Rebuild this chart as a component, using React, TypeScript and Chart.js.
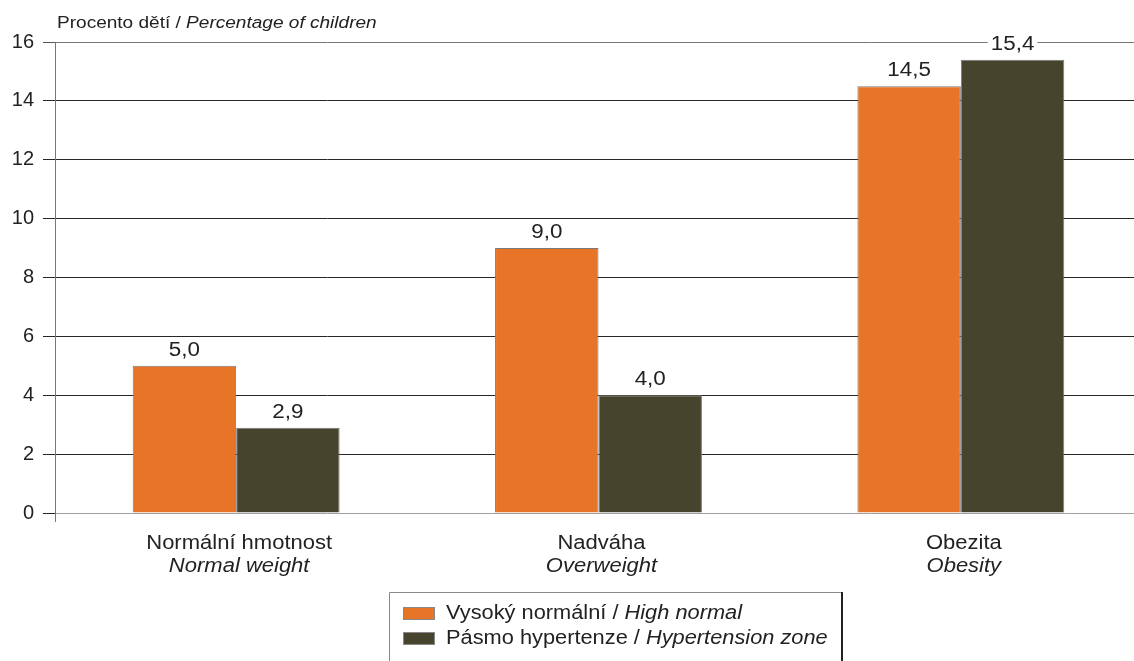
import React, { useEffect, useRef } from "react";
import { Chart, registerables } from "chart.js";

Chart.register(...registerables);

// Body-weight groups (Czech / English)
const categoriesCz = ["Normální hmotnost", "Nadváha", "Obezita"];
const categoriesEn = ["Normal weight", "Overweight", "Obesity"];

// Share of children (%) per blood-pressure group
const highNormal = [5.0, 9.0, 14.5];
const hypertension = [2.9, 4.0, 15.4];

const seriesCz = ["Vysoký normální", "Pásmo hypertenze"];
const seriesEn = ["High normal", "Hypertension zone"];
const seriesColors = ["#E87427", "#46442C"];

const yTicks = [0, 2, 4, 6, 8, 10, 12, 14, 16];

const FONT = "'Liberation Sans', Arial, Helvetica, sans-serif";
const TEXT = "#222222";

const fmt = (v: number) => v.toFixed(1).replace(".", ",");

type Run = { text: string; italic?: boolean };

// Draws a sequence of text runs with a slightly widened face
function drawRuns(
  ctx: CanvasRenderingContext2D,
  runs: Run[],
  x: number,
  y: number,
  size: number,
  sx: number,
  align: "left" | "center"
) {
  const widths = runs.map((r) => {
    ctx.font = `${r.italic ? "italic " : ""}${size}px ${FONT}`;
    return ctx.measureText(r.text).width;
  });
  const total = widths.reduce((a, b) => a + b, 0);
  let start = align === "center" ? -total / 2 : 0;
  ctx.save();
  ctx.translate(x, y);
  ctx.scale(sx, 1);
  ctx.textAlign = "left";
  runs.forEach((r, i) => {
    ctx.font = `${r.italic ? "italic " : ""}${size}px ${FONT}`;
    ctx.fillText(r.text, start, 0);
    start += widths[i];
  });
  ctx.restore();
  return total * sx;
}

const decorations = {
  id: "decorations",
  afterDraw(chart: any) {
    const { ctx, chartArea, scales } = chart;
    const x = scales.x;
    ctx.save();

    // y axis continues a little below zero
    ctx.strokeStyle = "#777";
    ctx.lineWidth = 1;
    ctx.beginPath();
    ctx.moveTo(chartArea.left + 0.5, chartArea.bottom);
    ctx.lineTo(chartArea.left + 0.5, chartArea.bottom + 9);
    ctx.stroke();

    // axis title above the plot
    ctx.textBaseline = "alphabetic";
    ctx.fillStyle = TEXT;
    drawRuns(
      ctx,
      [{ text: "Procento dětí / " }, { text: "Percentage of children", italic: true }],
      57,
      28,
      16,
      1.19,
      "left"
    );

    // value labels above each bar
    chart.data.datasets.forEach((ds: any, di: number) => {
      const meta = chart.getDatasetMeta(di);
      meta.data.forEach((bar: any, i: number) => {
        const label = fmt(ds.data[i]);
        ctx.font = `20px ${FONT}`;
        const w = ctx.measureText(label).width * 1.12;
        const by = bar.y - 10;
        ctx.fillStyle = "#ffffff";
        ctx.fillRect(bar.x - w / 2 - 3, by - 16, w + 6, 18);
        ctx.fillStyle = TEXT;
        drawRuns(ctx, [{ text: label }], bar.x, by, 20, 1.12, "center");
      });
    });

    // two-line category labels
    categoriesCz.forEach((c, i) => {
      const cx = x.getPixelForValue(i) + 3;
      drawRuns(ctx, [{ text: c }], cx, 549, 20, 1.1, "center");
      drawRuns(ctx, [{ text: categoriesEn[i], italic: true }], cx, 572, 20, 1.1, "center");
    });

    // legend box
    ctx.strokeStyle = "#888";
    ctx.lineWidth = 1;
    ctx.beginPath();
    ctx.moveTo(389.5, 661);
    ctx.lineTo(389.5, 592.5);
    ctx.lineTo(842, 592.5);
    ctx.stroke();
    ctx.strokeStyle = "#222";
    ctx.lineWidth = 2;
    ctx.beginPath();
    ctx.moveTo(842, 592);
    ctx.lineTo(842, 661);
    ctx.stroke();

    const rows = [619, 644];
    seriesCz.forEach((s, i) => {
      const base = rows[i];
      const cy = base - 6;
      ctx.fillStyle = seriesColors[i];
      ctx.fillRect(403, cy - 6, 32, 13);
      ctx.strokeStyle = "#888";
      ctx.lineWidth = 1;
      ctx.strokeRect(403.5, cy - 5.5, 31, 12);
      ctx.fillStyle = TEXT;
      drawRuns(
        ctx,
        [{ text: `${s} / ` }, { text: seriesEn[i], italic: true }],
        446,
        base,
        20,
        1.09,
        "left"
      );
    });

    ctx.restore();
  },
};

export default function App() {
  const canvasRef = useRef<HTMLCanvasElement | null>(null);

  useEffect(() => {
    const canvas = canvasRef.current;
    if (!canvas) return;
    const chart = new Chart(canvas, {
      type: "bar",
      data: {
        labels: categoriesCz,
        datasets: [
          {
            label: seriesCz[0],
            data: highNormal,
            backgroundColor: seriesColors[0],
            borderColor: "#7a7a7a",
            borderWidth: 1,
            categoryPercentage: 0.571,
            barPercentage: 1,
          },
          {
            label: seriesCz[1],
            data: hypertension,
            backgroundColor: seriesColors[1],
            borderColor: "#7a7a7a",
            borderWidth: 1,
            categoryPercentage: 0.571,
            barPercentage: 1,
          },
        ],
      },
      options: {
        responsive: false,
        animation: false,
        devicePixelRatio: 1,
        layout: { padding: { top: 42, bottom: 148, left: 0, right: 0 } },
        plugins: {
          legend: { display: false },
          tooltip: { enabled: false },
        },
        scales: {
          x: {
            display: false,
            grid: { display: false },
          },
          y: {
            min: 0,
            max: 16,
            afterBuildTicks: (scale: any) => {
              scale.ticks = yTicks.map((v) => ({ value: v }));
            },
            afterFit: (scale: any) => {
              scale.width = 55;
            },
            ticks: {
              color: TEXT,
              font: { family: FONT, size: 20 },
              padding: 9,
            },
            grid: {
              tickLength: 12,
              color: (c: any) =>
                c.tick && c.tick.value === 0
                  ? "#a0a0a0"
                  : c.tick && c.tick.value === 16
                  ? "#777"
                  : "#262626",
              tickColor: (c: any) =>
                c.tick && c.tick.value === 16 ? "#555" : "#262626",
            },
            border: { color: "#777" },
          },
        },
      },
      plugins: [decorations],
    });
    return () => chart.destroy();
  }, []);

  return (
    <div
      style={{
        position: "fixed",
        left: 0,
        top: 0,
        width: 1134,
        height: 661,
        overflow: "hidden",
        background: "#ffffff",
      }}
    >
      <canvas ref={canvasRef} width={1142} height={661} />
    </div>
  );
}
